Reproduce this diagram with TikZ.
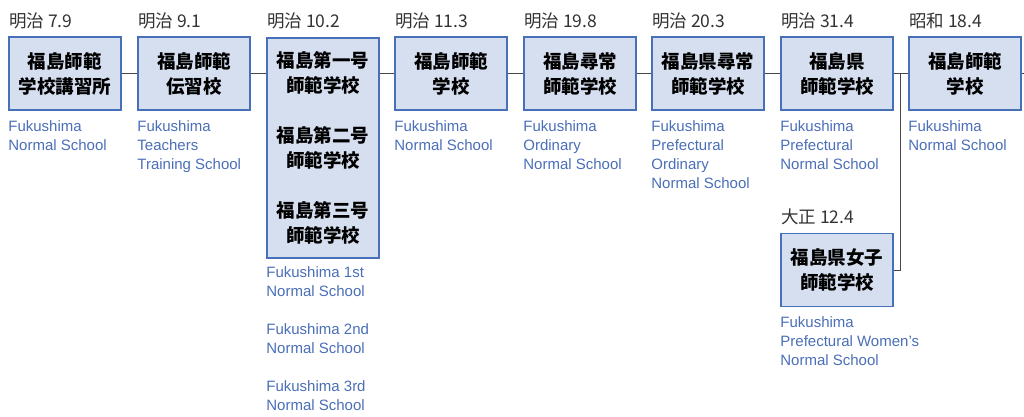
\documentclass[tikz,border=0pt]{standalone}
\usepackage{fontspec}
\setmainfont{Liberation Sans}
\newfontfamily\jp{Noto Sans CJK JP}
\usetikzlibrary{positioning, calc}
\definecolor{boxfill}{RGB}{214,223,240}
\definecolor{boxline}{RGB}{72,112,184}
\definecolor{engblue}{RGB}{74,110,184}
\definecolor{lineGray}{RGB}{70,70,70}
\tikzset{
  school/.style={draw=boxline, fill=boxfill, line width=1.6pt, minimum width=112pt, minimum height=73pt, inner sep=0pt, align=center, font=\jp\bfseries\fontsize{18.5}{25}\selectfont},
  era/.style={anchor=base west, inner sep=0pt, font=\jp\fontsize{17.5}{19}\selectfont, text=black!80},
  eng/.style={anchor=north west, inner sep=0pt, align=left, text=engblue, font=\fontsize{15}{19}\selectfont},
  link/.style={draw=lineGray, line width=0.8pt}
}

\begin{document}
\begin{tikzpicture}[x=1pt,y=-1pt]
  \useasboundingbox (0,0) rectangle (1024,416);
  % main row
  \foreach \n/\x/\d/\t in {1/65/明治 7.9/{福島師範\\学校講習所}, 2/194/明治 9.1/{福島師範\\伝習校},
      4/451/明治 11.3/{福島師範\\学校}, 5/580/明治 19.8/{福島尋常\\師範学校},
      6/708/明治 20.3/{福島県尋常\\師範学校}, 7/837/明治 31.4/{福島県\\師範学校},
      8/965/昭和 18.4/{福島師範\\学校}} {
    \node[school] (b\n) at (\x,73.5) {\t};
    \node[era] (d\n) at (\x-56,27) {\d};
  }
  \node[school, minimum height=220pt] (b3) at (323,148)
    {福島第一号\\師範学校\\[25pt]福島第二号\\師範学校\\[25pt]福島第三号\\師範学校};
  \node[era] (d3) at (267,27) {明治 10.2};
  \node[school] (b9) at (837,270) {福島県女子\\師範学校};
  \node[era] (d9) at (781,223) {大正 12.4};

  % english names
  \node[eng] (e1) at (b1.west |- 0,120) {Fukushima\\Normal School};
  \node[eng] (e2) at (b2.west |- 0,120) {Fukushima\\Teachers\\Training School};
  \node[eng] (e3) at (b3.west |- 0,266) {Fukushima 1st\\Normal School\\[19pt]Fukushima 2nd\\Normal School\\[19pt]Fukushima 3rd\\Normal School};
  \node[eng] (e4) at (b4.west |- 0,120) {Fukushima\\Normal School};
  \node[eng] (e5) at (b5.west |- 0,120) {Fukushima\\Ordinary\\Normal School};
  \node[eng] (e6) at (b6.west |- 0,120) {Fukushima\\Prefectural\\Ordinary\\Normal School};
  \node[eng] (e7) at (b7.west |- 0,120) {Fukushima\\Prefectural\\Normal School};
  \node[eng] (e8) at (b8.west |- 0,120) {Fukushima\\Normal School};
  \node[eng] (e9) at (b9.west |- 0,316) {Fukushima\\Prefectural Women’s\\Normal School};

  % connectors
  \coordinate (edge) at (1024,73.5);
  \coordinate (junc) at (900,73.5);
  \draw[link] (b1.east) -- (b2.west);
  \draw[link] (b2.east) -- (b2.east -| b3.west);
  \draw[link] (b4.west -| b3.east) -- (b4.west);
  \draw[link] (b4.east) -- (b5.west);
  \draw[link] (b5.east) -- (b6.west);
  \draw[link] (b6.east) -- (b7.west);
  \draw[link] (b7.east) -- (b8.west);
  \draw[link] (b8.east) -- (edge);
  \draw[link] (b9.east) -| (junc);
\end{tikzpicture}
\end{document}
